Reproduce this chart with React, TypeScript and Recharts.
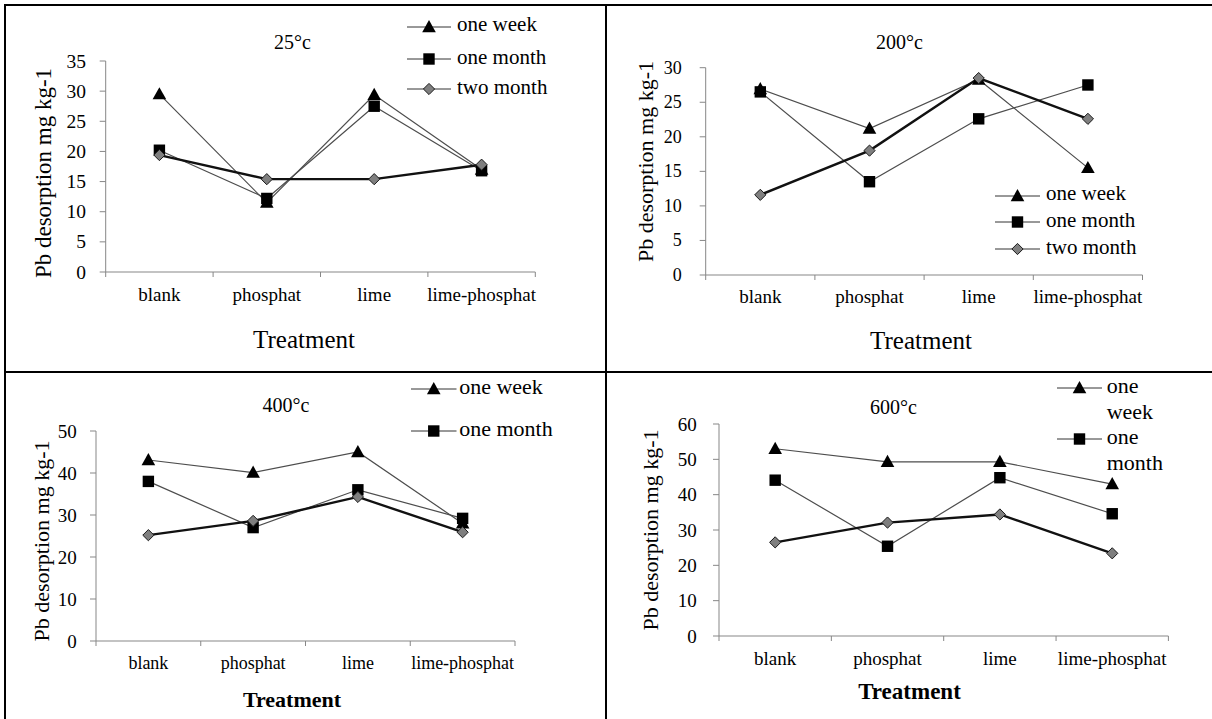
import React from 'react';
import { LineChart, Line, XAxis, YAxis, Legend } from 'recharts';

const categories = ['blank', 'phosphat', 'lime', 'lime-phosphat'];
const seriesNames = ['one week', 'one month', 'two month'];

const t25OneWeek = [29.5, 11.5, 29.4, 17.0];
const t25OneMonth = [20.2, 12.2, 27.5, 16.8];
const t25TwoMonth = [19.4, 15.4, 15.4, 17.8];

const t200OneWeek = [26.9, 21.2, 28.3, 15.5];
const t200OneMonth = [26.5, 13.5, 22.6, 27.5];
const t200TwoMonth = [11.6, 18.0, 28.5, 22.6];

const t400OneWeek = [43.1, 40.1, 45.0, 28.0];
const t400OneMonth = [38.0, 27.0, 36.0, 29.2];
const t400TwoMonth = [25.2, 28.6, 34.3, 25.9];

const t600OneWeek = [53.0, 49.3, 49.3, 43.0];
const t600OneMonth = [44.1, 25.4, 44.8, 34.6];
const t600TwoMonth = [26.5, 32.1, 34.4, 23.4];

const ticks25 = [0, 5, 10, 15, 20, 25, 30, 35];
const ticks200 = [0, 5, 10, 15, 20, 25, 30];
const ticks400 = [0, 10, 20, 30, 40, 50];
const ticks600 = [0, 10, 20, 30, 40, 50, 60];

const FONT = "'Liberation Serif', 'Times New Roman', Times, serif";
const AXIS = '#878787';
const XH = 30;

type Marker = 'tri' | 'sq' | 'dia';
const markers: Marker[] = ['tri', 'sq', 'dia'];

function MarkerShape({ kind, cx, cy }: { kind: Marker; cx: number; cy: number }) {
  if (kind === 'tri') {
    return <polygon points={`${cx},${cy - 7} ${cx + 6.8},${cy + 5.2} ${cx - 6.8},${cy + 5.2}`} fill="#000" />;
  }
  if (kind === 'sq') {
    return <rect x={cx - 5.7} y={cy - 5.7} width={11.4} height={11.4} fill="#000" />;
  }
  return (
    <polygon
      points={`${cx},${cy - 5.6} ${cx + 5.6},${cy} ${cx},${cy + 5.6} ${cx - 5.6},${cy}`}
      fill="#7f7f7f"
      stroke="#1a1a1a"
      strokeWidth={1}
    />
  );
}

const lineStyles = [
  { stroke: '#4d4d4d', width: 1.2 },
  { stroke: '#4d4d4d', width: 1.2 },
  { stroke: '#111111', width: 2.4 },
];

interface LegendRow { series: number; lines: string[]; y: number }
interface PanelCfg {
  title: string;
  left: number; top: number; width: number; height: number;
  plotL: number; plotR: number; plotT: number; plotB: number;
  yMax: number; yTicks: number[];
  ow: number[]; om: number[]; tm: number[];
  titlePos: [number, number];
  yLabel: string; yLabelPos: [number, number]; yLabelSize: number;
  xTitlePos: [number, number]; xTitleSize: number; xTitleBold: boolean;
  tickOffset: number; tickFont: number; yTickFont: number; yTickGap: number;
  legend: { x0: number; x1: number; textX: number; fontSize: number; lineHeight: number; rows: LegendRow[] };
}

const panels: PanelCfg[] = [
  {
    title: '25°c', left: 0, top: 0, width: 606, height: 372,
    plotL: 105.7, plotR: 535.3, plotT: 61, plotB: 272,
    yMax: 35, yTicks: ticks25,
    ow: t25OneWeek, om: t25OneMonth, tm: t25TwoMonth,
    titlePos: [292.5, 42],
    yLabel: 'Pb desorption mg kg-1', yLabelPos: [43, 173], yLabelSize: 23,
    xTitlePos: [304, 339], xTitleSize: 25, xTitleBold: false,
    tickOffset: 22, tickFont: 19, yTickFont: 19.5, yTickGap: 13.7,
    legend: {
      x0: 406.7, x1: 450.7, textX: 457, fontSize: 21, lineHeight: 24,
      rows: [
        { series: 0, lines: ['one week'], y: 26.7 },
        { series: 1, lines: ['one month'], y: 59.3 },
        { series: 2, lines: ['two month'], y: 89.3 },
      ],
    },
  },
  {
    title: '200°c', left: 606, top: 0, width: 606, height: 372,
    plotL: 99.7, plotR: 536.5, plotT: 67.7, plotB: 275,
    yMax: 30, yTicks: ticks200,
    ow: t200OneWeek, om: t200OneMonth, tm: t200TwoMonth,
    titlePos: [293.5, 42],
    yLabel: 'Pb desorption mg kg-1', yLabelPos: [39.5, 161.5], yLabelSize: 22,
    xTitlePos: [315, 340], xTitleSize: 25, xTitleBold: false,
    tickOffset: 21, tickFont: 19, yTickFont: 18, yTickGap: 18,
    legend: {
      x0: 389, x1: 434, textX: 440, fontSize: 21, lineHeight: 24,
      rows: [
        { series: 0, lines: ['one week'], y: 195.7 },
        { series: 1, lines: ['one month'], y: 222.3 },
        { series: 2, lines: ['two month'], y: 249 },
      ],
    },
  },
  {
    title: '400°c', left: 0, top: 372, width: 606, height: 347,
    plotL: 96, plotR: 515, plotT: 59, plotB: 269,
    yMax: 50, yTicks: ticks400,
    ow: t400OneWeek, om: t400OneMonth, tm: t400TwoMonth,
    titlePos: [286, 33],
    yLabel: 'Pb desorption mg kg-1', yLabelPos: [41.7, 169], yLabelSize: 22,
    xTitlePos: [292, 327], xTitleSize: 22, xTitleBold: true,
    tickOffset: 22, tickFont: 18, yTickFont: 19, yTickGap: 13.3,
    legend: {
      x0: 410.5, x1: 456, textX: 459.2, fontSize: 22, lineHeight: 25,
      rows: [
        { series: 0, lines: ['one week'], y: 17.3 },
        { series: 1, lines: ['one month'], y: 59 },
      ],
    },
  },
  {
    title: '600°c', left: 606, top: 372, width: 606, height: 347,
    plotL: 113, plotR: 562.4, plotT: 52, plotB: 264,
    yMax: 60, yTicks: ticks600,
    ow: t600OneWeek, om: t600OneMonth, tm: t600TwoMonth,
    titlePos: [287.5, 34.7],
    yLabel: 'Pb desorption mg kg-1', yLabelPos: [44, 158], yLabelSize: 22,
    xTitlePos: [303.5, 319.7], xTitleSize: 23, xTitleBold: true,
    tickOffset: 22, tickFont: 19, yTickFont: 19, yTickGap: 16.3,
    legend: {
      x0: 450.7, x1: 495.7, textX: 500.7, fontSize: 22, lineHeight: 25.5,
      rows: [
        { series: 0, lines: ['one', 'week'], y: 16.3 },
        { series: 1, lines: ['one', 'month'], y: 67.3 },
      ],
    },
  },
];

function makeXTick(band: number, n: number, offset: number, fontSize: number) {
  return (props: any) => {
    const { x, y, payload } = props;
    const idx = categories.indexOf(payload.value);
    return (
      <g key={`t-${payload.value}`}>
        <line x1={x - band / 2} x2={x - band / 2} y1={y} y2={y + 5} stroke={AXIS} strokeWidth={1} />
        {idx === n - 1 && (
          <line x1={x + band / 2} x2={x + band / 2} y1={y} y2={y + 5} stroke={AXIS} strokeWidth={1} />
        )}
        <text x={x} y={y + offset} textAnchor="middle" dominantBaseline="central" fontSize={fontSize} fontFamily={FONT} fill="#000">
          {payload.value}
        </text>
      </g>
    );
  };
}

function makeYTick(gap: number, fontSize: number) {
  return (props: any) => {
    const { x, y, payload } = props;
    return (
      <text
        key={`y-${payload.value}`}
        x={x - gap}
        y={y}
        textAnchor="end"
        dominantBaseline="central"
        fontSize={fontSize}
        fontFamily={FONT}
        fill="#000"
      >
        {payload.value}
      </text>
    );
  };
}

function makeLegend(cfg: PanelCfg) {
  const L = cfg.legend;
  return () => (
    <div style={{ position: 'relative', width: 0, height: 0 }}>
      {L.rows.map((r) => (
        <React.Fragment key={r.series}>
          <svg
            style={{ position: 'absolute', left: L.x0, top: r.y - 8, overflow: 'visible' }}
            width={L.x1 - L.x0}
            height={16}
          >
            <line x1={0} y1={8} x2={L.x1 - L.x0} y2={8} stroke="#333" strokeWidth={1} />
            <MarkerShape kind={markers[r.series]} cx={(L.x1 - L.x0) / 2} cy={8} />
          </svg>
          <div
            style={{
              position: 'absolute',
              left: L.textX,
              top: r.y - L.lineHeight / 2 - 0.11 * L.fontSize,
              fontSize: L.fontSize,
              lineHeight: `${L.lineHeight}px`,
              fontFamily: FONT,
              color: '#000',
              whiteSpace: 'pre',
            }}
          >
            {r.lines.map((t, i) => (
              <div key={i}>{t}</div>
            ))}
          </div>
        </React.Fragment>
      ))}
    </div>
  );
}

function Panel({ cfg }: { cfg: PanelCfg }) {
  const data = categories.map((c, i) => ({
    name: c,
    s0: cfg.ow[i],
    s1: cfg.om[i],
    s2: cfg.tm[i],
  }));
  const band = (cfg.plotR - cfg.plotL) / categories.length;
  const margin = {
    top: cfg.plotT,
    right: cfg.width - cfg.plotR,
    bottom: cfg.height - cfg.plotB - XH,
    left: 0,
  };
  const [yx, yy] = cfg.yLabelPos;
  return (
    <div style={{ position: 'absolute', left: cfg.left, top: cfg.top, width: cfg.width, height: cfg.height }}>
      <LineChart width={cfg.width} height={cfg.height} data={data} margin={margin}>
        <XAxis
          dataKey="name"
          type="category"
          scale="band"
          interval={0}
          height={XH}
          stroke={AXIS}
          axisLine={{ stroke: AXIS, strokeWidth: 1 }}
          tickLine={false}
          tickSize={0}
          tickMargin={0}
          tick={makeXTick(band, categories.length, cfg.tickOffset, cfg.tickFont)}
          label={() => (
            <text
              x={cfg.xTitlePos[0]}
              y={cfg.xTitlePos[1]}
              textAnchor="middle"
              dominantBaseline="central"
              fontSize={cfg.xTitleSize}
              fontWeight={cfg.xTitleBold ? 'bold' : 'normal'}
              fontFamily={FONT}
              fill="#000"
            >
              Treatment
            </text>
          )}
        />
        <YAxis
          type="number"
          domain={[0, cfg.yMax]}
          ticks={cfg.yTicks}
          interval={0}
          width={cfg.plotL}
          stroke={AXIS}
          axisLine={{ stroke: AXIS, strokeWidth: 1 }}
          tickLine={{ stroke: AXIS, strokeWidth: 1 }}
          tickSize={6}
          tickMargin={0}
          tick={makeYTick(cfg.yTickGap, cfg.yTickFont)}
          label={() => (
            <text
              x={yx}
              y={yy}
              transform={`rotate(-90 ${yx} ${yy})`}
              textAnchor="middle"
              dominantBaseline="central"
              fontSize={cfg.yLabelSize}
              fontFamily={FONT}
              fill="#000"
            >
              {cfg.yLabel}
            </text>
          )}
        />
        <Legend
          layout="vertical"
          align="center"
          verticalAlign="middle"
          content={makeLegend(cfg)}
          wrapperStyle={{ position: 'absolute', left: 0, top: 0, width: 1, height: 1, margin: 0, padding: 0 }}
        />
        {[0, 1, 2].map((s) => (
          <Line
            key={s}
            dataKey={`s${s}`}
            name={seriesNames[s]}
            type="linear"
            stroke={lineStyles[s].stroke}
            strokeWidth={lineStyles[s].width}
            isAnimationActive={false}
            activeDot={false}
            dot={(p: any) => <MarkerShape key={`d${s}-${p.index}`} kind={markers[s]} cx={p.cx} cy={p.cy} />}
          />
        ))}
        <text
          x={cfg.titlePos[0]}
          y={cfg.titlePos[1]}
          textAnchor="middle"
          dominantBaseline="central"
          fontSize={20}
          fontFamily={FONT}
          fill="#000"
        >
          {cfg.title}
        </text>
      </LineChart>
    </div>
  );
}

export default function App() {
  return (
    <div style={{ position: 'absolute', left: 0, top: 0, width: 1212, height: 719, background: '#fff', overflow: 'hidden' }}>
      {panels.map((p, i) => (
        <Panel key={i} cfg={p} />
      ))}
      <div style={{ position: 'absolute', left: 4, top: 4, width: 1208, height: 2, background: '#000' }} />
      <div style={{ position: 'absolute', left: 4, top: 371, width: 1208, height: 2, background: '#000' }} />
      <div style={{ position: 'absolute', left: 4, top: 4, width: 2, height: 715, background: '#000' }} />
      <div style={{ position: 'absolute', left: 605, top: 4, width: 2, height: 715, background: '#000' }} />
    </div>
  );
}
